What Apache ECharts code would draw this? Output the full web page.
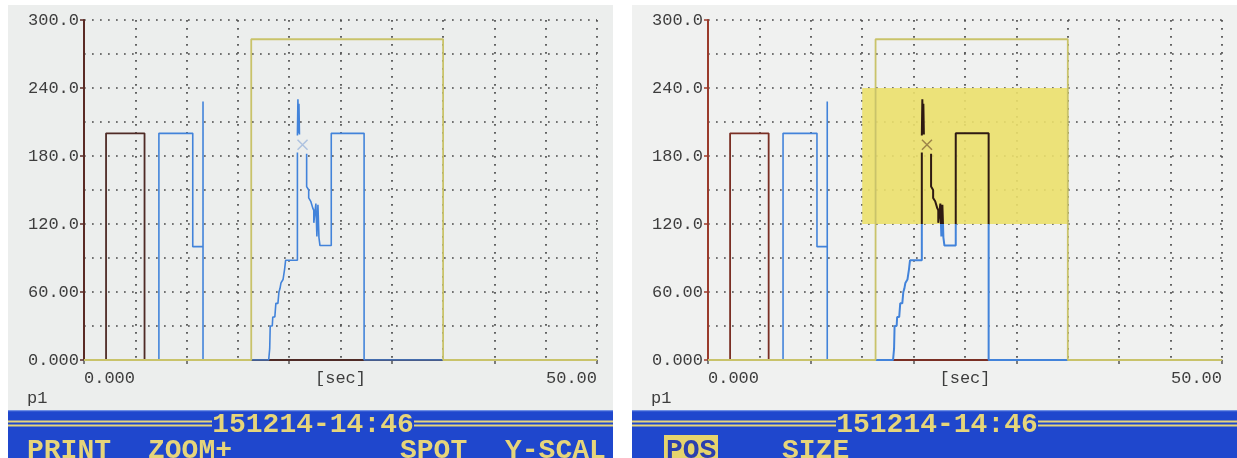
<!DOCTYPE html>
<html>
<head>
<meta charset="utf-8">
<script src="https://cdn.jsdelivr.net/npm/echarts@6/dist/echarts.min.js"></script>
<style>
  html, body { margin: 0; padding: 0; background: #fff; }
  #chart { width: 1237px; height: 458px; }
</style>
</head>
<body>
<div id="chart"></div>
<script>
// tick labels
const xTickValues = [0, 50];
const xTickText = ['0.000', '50.00'];
const yTickValues = [0, 60, 120, 180, 240, 300];
const yTickText = ['0.000', '60.00', '120.0', '180.0', '240.0', '300.0'];
const xName = '[sec]';
const channelName = 'p1';

// traces [sec, value]
const brownTrace = [[0, 0], [2.15, 0], [2.15, 200], [5.9, 200], [5.9, 0], [50, 0]];
const yellowTrace = [[0, 0], [16.3, 0], [16.3, 283], [35, 283], [35, 0], [50, 0]];
const blueTrace = [
  [0, 0], [7.3, 0], [7.3, 200], [10.6, 200], [10.6, 100], [11.6, 100], [11.6, 228], [11.6, 0],
  [18.0, 0], [18.1, 10], [18.15, 30], [18.35, 30], [18.4, 38], [18.6, 38], [18.7, 50], [18.9, 50],
  [19.0, 60], [19.1, 63], [19.2, 68], [19.4, 71], [19.55, 80], [19.65, 88], [20.8, 88], [20.8, 183], [20.8, '-'],
  [20.8, 198], [20.85, 230], [20.9, 200], [20.95, 226], [21.0, 199], [21.0, '-'],
  [21.7, 182], [21.7, 153], [21.9, 150], [21.9, 143], [22.1, 140], [22.3, 134], [22.4, 132], [22.4, 121],
  [22.6, 138], [22.7, 109], [22.8, 137], [22.9, 108], [23.0, 101], [24.1, 101], [24.1, 200],
  [27.3, 200], [27.3, 0], [50, 0]
];
const cursorPoint = [[21.3, 190]];
const highlightBox = [[15, 240], [35, 120]];

// screen texts
const stampText = '151214-14:46';
const leftKeys = ['PRINT', 'ZOOM+', 'SPOT', 'Y-SCAL'];
const rightKeys = ['POS', 'SIZE'];

const MONO = '"Liberation Mono", "DejaVu Sans Mono", monospace';
const TXT = '#3d3d3d';
const YEL = '#e6d57a';
const BLUE = '#4283da';
const DARK = '#2e1a12';
const GRID = { color: '#4a4a4a', width: 1.7, type: [1.7, 6.3] };

const panelX = [8, 632];
const gridLeft = [84, 708];
const gridWidth = [513, 514];
const axisCol = ['#5a2a24', '#9a3b2b'];
const brownCol = ['#4f2b26', '#7a2f24'];
const cursorCol = ['#9db7dc', '#8a6d3c'];

const labelStyle = { fontFamily: MONO, fontSize: 17, color: TXT };

function xAxisFor(i) {
  return {
    type: 'value', gridIndex: i, min: 0, max: 50, interval: 10,
    name: xName, nameLocation: 'middle', nameGap: 10, nameMoveOverlap: false,
    nameTextStyle: Object.assign({ verticalAlign: 'top' }, labelStyle),
    axisLine: { show: true, onZero: false, lineStyle: { color: '#c6c06a', width: 1.5 } },
    axisTick: { show: true, length: 4, lineStyle: { color: '#555', width: 1.5 } },
    minorTick: { show: false, splitNumber: 2 },
    axisLabel: Object.assign({
      margin: 10, alignMinLabel: 'left', alignMaxLabel: 'right',
      formatter: v => { const k = xTickValues.indexOf(v); return k < 0 ? '' : xTickText[k]; }
    }, labelStyle),
    splitLine: { show: true, lineStyle: GRID },
    minorSplitLine: { show: true, lineStyle: GRID }
  };
}

function yAxisFor(i) {
  return {
    type: 'value', gridIndex: i, min: 0, max: 300, interval: 60,
    axisLine: { show: true, lineStyle: { color: axisCol[i], width: 2 } },
    axisTick: { show: true, length: 4, lineStyle: { color: axisCol[i], width: 1.5 } },
    minorTick: { show: false, splitNumber: 2 },
    axisLabel: Object.assign({
      margin: 5,
      formatter: v => { const k = yTickValues.indexOf(v); return k < 0 ? '' : yTickText[k]; }
    }, labelStyle),
    splitLine: { show: true, lineStyle: GRID },
    minorSplitLine: { show: true, lineStyle: GRID }
  };
}

function trace(i, data, color, width, z) {
  const s = {
    type: 'line', xAxisIndex: i, yAxisIndex: i, data: data,
    symbol: 'none', showSymbol: false, smooth: false, z: z, silent: true,
    lineStyle: { width: width }
  };
  if (color) s.lineStyle.color = color;
  return s;
}

function cursor(i) {
  return {
    type: 'scatter', xAxisIndex: i, yAxisIndex: i, data: cursorPoint, z: 6, silent: true,
    symbol: 'path://M0,0L10,10M10,0L0,10', symbolSize: 10,
    itemStyle: { color: 'none', borderColor: cursorCol[i], borderWidth: 1.5 }
  };
}

// split the blue trace where the first spike falls back to zero
const splitAt = 7;
const blueEarly = blueTrace.slice(0, splitAt + 1);
const blueLate = blueTrace.slice(splitAt);

const series = [
  trace(0, brownTrace, brownCol[0], 1.8, 3),
  trace(0, blueTrace, BLUE, 1.6, 4),
  trace(0, yellowTrace, '#c9c36a', 1.8, 5),
  cursor(0),
  {
    type: 'line', xAxisIndex: 1, yAxisIndex: 1, data: [], z: 1, silent: true,
    markArea: {
      silent: true,
      itemStyle: { color: '#ebe06c', opacity: 0.9 },
      data: [[{ coord: highlightBox[0] }, { coord: highlightBox[1] }]]
    }
  },
  trace(1, brownTrace, brownCol[1], 1.8, 3),
  trace(1, blueEarly, BLUE, 1.6, 4),
  trace(1, blueLate, null, 2, 4),
  trace(1, yellowTrace, '#c9c36a', 1.8, 5),
  cursor(1)
];

// screen furniture
const graphic = [];
panelX.forEach((px, i) => {
  graphic.push({ type: 'rect', z: -10, shape: { x: px, y: 5, width: 605, height: 453 },
    style: { fill: i === 0 ? '#eceeed' : '#f0f1f0' } });
  graphic.push({ type: 'rect', z: -9, shape: { x: px, y: 410, width: 605, height: 48 }, style: { fill: '#1f47cd' } });
  graphic.push({ type: 'rect', z: -8, shape: { x: px, y: 410, width: 605, height: 1.2 }, style: { fill: '#6f8fe4' } });
  const cx = px + 302;
  [[px, cx - 98], [cx + 104, px + 605]].forEach(seg => {
    [420.5, 424.5].forEach(yy => {
      graphic.push({ type: 'rect', z: -8, shape: { x: seg[0], y: yy, width: seg[1] - seg[0], height: 2 }, style: { fill: YEL } });
    });
  });
  graphic.push({ type: 'text', z: 10, x: cx + 3, y: 425,
    style: { text: stampText, fontFamily: MONO, fontWeight: 'bold', fontSize: 28, fill: YEL, align: 'center', verticalAlign: 'middle' } });
  graphic.push({ type: 'text', z: 10, x: px + 19, y: 398,
    style: { text: channelName, fontFamily: MONO, fontSize: 17, fill: TXT, align: 'left', verticalAlign: 'middle' } });
});

const leftKeyX = [27, 148, 400, 505];
leftKeys.forEach((k, j) => {
  graphic.push({ type: 'text', z: 10, x: leftKeyX[j], y: 451,
    style: { text: k, fontFamily: MONO, fontWeight: 'bold', fontSize: 28, fill: YEL, align: 'left', verticalAlign: 'middle' } });
});
const rightKeyX = [666, 782];
graphic.push({ type: 'rect', z: 9, shape: { x: 664, y: 435, width: 54, height: 23 }, style: { fill: '#e6d46c' } });
rightKeys.forEach((k, j) => {
  graphic.push({ type: 'text', z: 10, x: rightKeyX[j], y: 451,
    style: { text: k, fontFamily: MONO, fontWeight: 'bold', fontSize: 28, fill: j === 0 ? '#2b3fae' : YEL, align: 'left', verticalAlign: 'middle' } });
});

const chart = echarts.init(document.getElementById('chart'), null, { renderer: 'canvas' });
chart.setOption({
  animation: false,
  backgroundColor: '#ffffff',
  grid: [0, 1].map(i => ({ left: gridLeft[i], top: 20, width: gridWidth[i], height: 340, containLabel: false })),
  xAxis: [xAxisFor(0), xAxisFor(1)],
  yAxis: [yAxisFor(0), yAxisFor(1)],
  visualMap: [{
    type: 'piecewise', show: false, seriesIndex: 7, dimension: 1,
    pieces: [
      { lt: highlightBox[1][1], color: BLUE },
      { gte: highlightBox[1][1], lte: highlightBox[0][1], color: DARK },
      { gt: highlightBox[0][1], color: BLUE }
    ]
  }],
  graphic: graphic,
  series: series
});
</script>
</body>
</html>
